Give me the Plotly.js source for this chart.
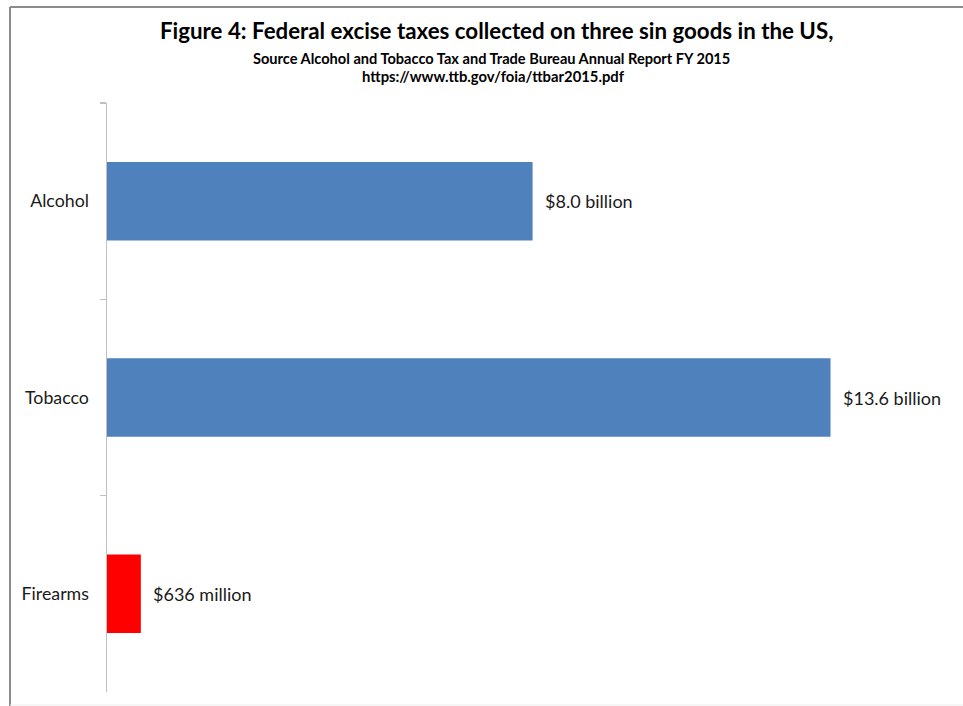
<!DOCTYPE html>
<html>
<head>
<meta charset="utf-8">
<script src="https://cdn.plot.ly/plotly-3.0.1.min.js"></script>
<style>
html, body { margin: 0; padding: 0; background: #ffffff; }
#chart { width: 963px; height: 706px; }
</style>
</head>
<body>
<div id="chart"></div>
<script>
// Data
const categories = ["Alcohol", "Tobacco", "Firearms"];
const valuesBillion = [8.0, 13.6, 0.636];
const valueLabels = ["$8.0 billion", "$13.6 billion", "$636 million"];
const barColors = ["#4f81bd", "#4f81bd", "#ff0000"];

const W = 963, H = 706;
const mL = 107, mR = 58, mT = 103, mB = 14;
const pw = W - mL - mR, ph = H - mT - mB;
const px2x = p => (p - mL) / pw;
const px2y = p => (H - mB - p) / ph;

const FONT = "Lato, 'Open Sans', sans-serif";

const trace = {
  type: "bar",
  orientation: "h",
  y: categories,
  x: valuesBillion,
  marker: { color: barColors, line: { width: 0 } },
  hoverinfo: "skip"
};

const annotations = categories.map((c, i) => ({
  xref: "x", yref: "y",
  x: valuesBillion[i], y: c,
  text: valueLabels[i],
  showarrow: false,
  xanchor: "left",
  xshift: 10,
  font: { family: FONT, size: 18, color: "#1a1a1a" }
}));

annotations.push(
  { xref: "paper", yref: "paper", x: px2x(496), y: px2y(31), xanchor: "center", yanchor: "middle",
    text: "<b>Figure 4: Federal excise taxes collected on three sin goods in the US,</b>",
    showarrow: false, font: { family: FONT, size: 22.3, color: "#000000" } },
  { xref: "paper", yref: "paper", x: px2x(491), y: px2y(58), xanchor: "center", yanchor: "middle",
    text: "<b>Source Alcohol and Tobacco Tax and Trade Bureau Annual Report FY 2015</b>",
    showarrow: false, font: { family: FONT, size: 14.6, color: "#000000" } },
  { xref: "paper", yref: "paper", x: px2x(493), y: px2y(76), xanchor: "center", yanchor: "middle",
    text: "<b>https://www.ttb.gov/foia/ttbar2015.pdf</b>",
    showarrow: false, font: { family: FONT, size: 14.8, color: "#000000" } }
);

const layout = {
  width: W, height: H,
  margin: { l: mL, r: mR, t: mT, b: mB, pad: 0 },
  paper_bgcolor: "#ffffff",
  plot_bgcolor: "#ffffff",
  showlegend: false,
  bargap: 0.6,
  xaxis: {
    range: [0, 15],
    visible: false,
    showgrid: false,
    zeroline: false
  },
  yaxis: {
    type: "category",
    categoryorder: "array",
    categoryarray: categories,
    autorange: "reversed",
    showline: true,
    linecolor: "#c0c0c0",
    linewidth: 1.5,
    ticks: "outside",
    tickson: "boundaries",
    ticklen: 6,
    tickcolor: "#c0c0c0",
    tickwidth: 1.5,
    ticklabelstandoff: 13,
    showgrid: false,
    zeroline: false,
    tickfont: { family: FONT, size: 17.8, color: "#1a1a1a" }
  },
  annotations: annotations,
  shapes: [
    { type: "line", xref: "paper", yref: "paper", x0: px2x(10), x1: px2x(963), y0: px2y(7), y1: px2y(7),
      line: { color: "#8c8c8c", width: 2 } },
    { type: "line", xref: "paper", yref: "paper", x0: px2x(10), x1: px2x(10), y0: px2y(7), y1: px2y(706),
      line: { color: "#8c8c8c", width: 2 } },
    { type: "line", xref: "paper", yref: "paper", x0: px2x(10), x1: px2x(963), y0: px2y(705), y1: px2y(705),
      line: { color: "#eeeeee", width: 1 } }
  ]
};

Plotly.newPlot("chart", [trace], layout, { displayModeBar: false, staticPlot: true });
</script>
</body>
</html>
